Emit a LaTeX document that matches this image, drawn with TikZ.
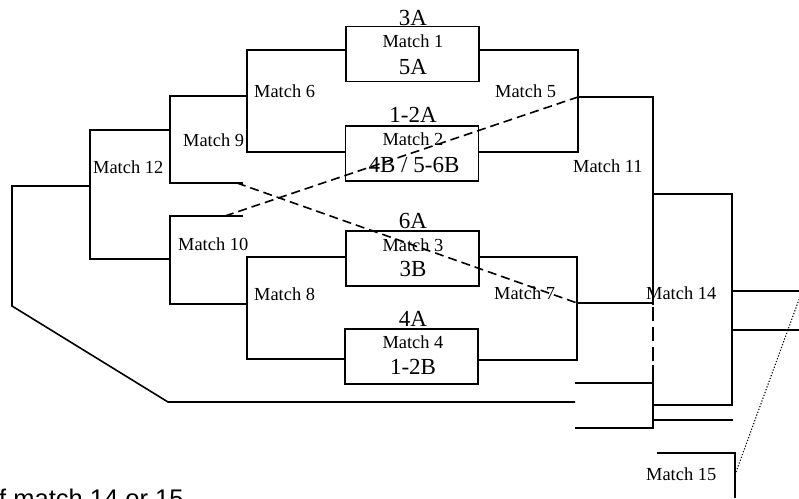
\documentclass[tikz,border=0pt]{standalone}
\usepackage{fontspec}
\setmainfont{Liberation Serif}
\newfontfamily\arialfont{Liberation Sans}
\begin{document}
\begin{tikzpicture}[x=1pt,y=-1pt,
  ln/.style={line width=1.6pt},
  dsh/.style={line width=1.6pt, dash pattern=on 9pt off 5pt},
  longdsh/.style={line width=1.6pt, dash pattern=on 14pt off 6pt},
  dots/.style={line width=1.1pt, dash pattern=on 1.2pt off 1.8pt},
  mbox/.style={draw, line width=1.6pt, minimum width=133pt, minimum height=55pt, inner sep=0pt},
  lbl/.style={font=\fontsize{18.4}{20}\selectfont, anchor=base west, inner sep=0pt},
  inb/.style={font=\fontsize{18.4}{20}\selectfont, anchor=base, inner sep=0pt},
  seed/.style={font=\fontsize{23}{25}\selectfont, anchor=base, inner sep=0pt}]
\useasboundingbox (0,0) rectangle (799,498);
\clip (0,0) rectangle (799,498);

% boxes
\node[mbox] (b1) at (412.5,54) {};
\node[mbox] (b2) at (412,153.5) {};
\node[mbox] (b3) at (412.5,258.5) {};
\node[mbox] (b4) at (411.5,356.5) {};

% box texts
\node[seed] (s1a) at (413,25) {3A};
\node[inb]  (t1)  at (413,47) {Match 1};
\node[seed] (s1b) at (413,74) {5A};
\node[seed] (s2a) at (413,122) {1-2A};
\node[inb]  (t2)  at (413,145) {Match 2};
\node[seed] (s2b) at (414,172) {4B / 5-6B};
\node[seed] (s3a) at (413,228) {6A};
\node[inb]  (t3)  at (413,251) {Match 3};
\node[seed] (s3b) at (413,276) {3B};
\node[seed] (s4a) at (413,326) {4A};
\node[inb]  (t4)  at (413,348) {Match 4};
\node[seed] (s4b) at (413,374) {1-2B};

% labels
\node[lbl] (l6)  at (254,97)  {Match 6};
\node[lbl] (l5)  at (495,97)  {Match 5};
\node[lbl] (l9)  at (183,146) {Match 9};
\node[lbl] (l12) at (93,173)  {Match 12};
\node[lbl] (l11) at (573,172) {Match 11};
\node[lbl] (l10) at (178,250) {Match 10};
\node[lbl] (l8)  at (254,300) {Match 8};
\node[lbl] (l7)  at (494,299) {Match 7};
\node[lbl] (l14) at (646,299) {Match 14};
\node[lbl] (l15) at (646,480) {Match 15};
\node[anchor=base west, inner sep=0pt, font=\arialfont\fontsize{25.5}{27}\selectfont] (note) at (-1,507) {f match 14 or 15};

% coordinates
\coordinate (m6a) at (247,50);  \coordinate (m6b) at (247,152);
\coordinate (m5a) at (578,50);  \coordinate (m5b) at (578,152);
\coordinate (m5m) at (578,97);
\coordinate (m8a) at (247,257); \coordinate (m8b) at (247,359);
\coordinate (m7a) at (577,257); \coordinate (m7b) at (577,360);
\coordinate (m7m) at (577,303);
\coordinate (m6m) at (247,96);
\coordinate (m9a) at (170,96);  \coordinate (m9b) at (170,183);
\coordinate (m9e) at (243,183); \coordinate (m9d) at (237,183);
\coordinate (m12a) at (90,130); \coordinate (m12b) at (90,259);
\coordinate (m12c) at (170,130); \coordinate (m12d) at (170,259);
\coordinate (m10a) at (170,216); \coordinate (m10b) at (170,304);
\coordinate (m10e) at (243,216); \coordinate (m10d) at (225,216);
\coordinate (m8m) at (247,304);
\coordinate (f1) at (90,186); \coordinate (f2) at (12,186);
\coordinate (f3) at (12,306); \coordinate (f4) at (168,402);
\coordinate (f5) at (575,402);
\coordinate (m11a) at (653,97); \coordinate (m11b) at (653,305);
\coordinate (m11c) at (653,307); \coordinate (m11d) at (653,363);
\coordinate (m11e) at (653,365); \coordinate (m11f) at (653,428);
\coordinate (m11g) at (575,428);
\coordinate (m11h) at (575,383); \coordinate (m11i) at (653,383);
\coordinate (m14a) at (653,194); \coordinate (m14b) at (732,194);
\coordinate (m14c) at (732,405); \coordinate (m14d) at (654,405);
\coordinate (m14e) at (654,420); \coordinate (m14f) at (733,420);
\coordinate (m14g) at (732,291); \coordinate (m14h) at (799,291);
\coordinate (m14i) at (733,330); \coordinate (m14j) at (799,330);
\coordinate (m15a) at (657,453); \coordinate (m15b) at (735,453);
\coordinate (m15c) at (735,498); \coordinate (m15d) at (736,472);
\coordinate (dotend) at (801,294);

% brackets
\draw[ln] (b1.west |- m6a) -- (m6a) -- (m6b) -- (b2.west |- m6b);
\draw[ln] (b1.east |- m5a) -- (m5a) -- (m5b) -- (b2.east |- m5b);
\draw[ln] (b3.west |- m8a) -- (m8a) -- (m8b) -- (b4.west |- m8b);
\draw[ln] (b3.east |- m7a) -- (m7a) -- (m7b) -- (b4.east |- m7b);
\draw[ln] (m7m) -- (m7m -| m11a);
\draw[ln] (m6m) -- (m9a) -- (m9b) -- (m9e);
\draw[ln] (m12c) -- (m12a) -- (m12b) -- (m12d);
\draw[ln] (m10e) -- (m10a) -- (m10b) -- (m8m);
\draw[ln] (f1) -- (f2) -- (f3) -- (f4) -- (f5);
\draw[ln] (m5m) -- (m11a) -- (m11b);
\draw[longdsh] (m11c) -- (m11d);
\draw[ln] (m11e) -- (m11f) -- (m11g);
\draw[ln] (m11h) -- (m11i);
\draw[ln] (m14a) -- (m14b) -- (m14c) -- (m14d);
\draw[ln] (m14e) -- (m14f);
\draw[ln] (m14g) -- (m14h);
\draw[ln] (m14i) -- (m14j);
\draw[ln] (m15a) -- (m15b) -- (m15c);
\draw[dots] (m15d) -- (dotend);

% dashed crossings
\draw[dsh] (m9d) -- (m7m);
\draw[dsh] (m10d) -- (m5m);
\end{tikzpicture}
\end{document}
